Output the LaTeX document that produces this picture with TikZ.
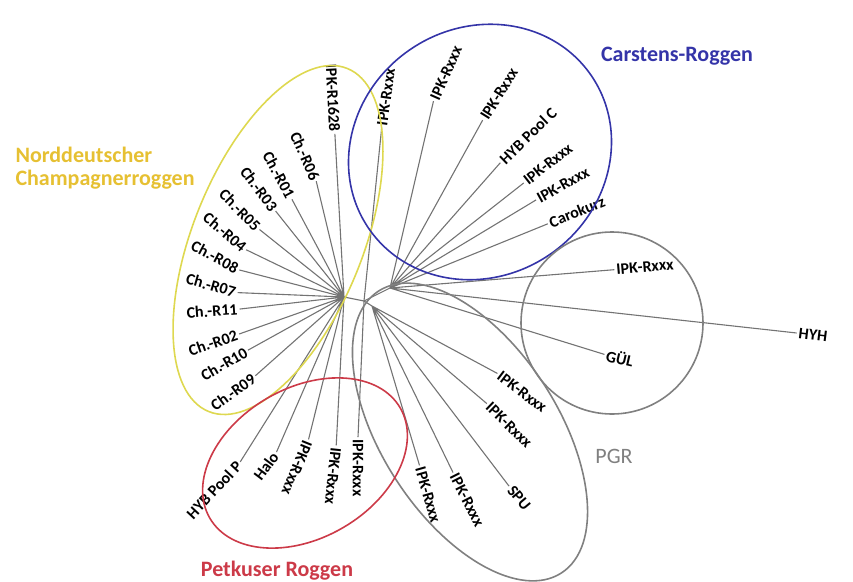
\documentclass[tikz,border=0pt]{standalone}
\usepackage{fontspec}
\setmainfont{Carlito}
\usepackage{xcolor}
\definecolor{champgold}{RGB}{230,192,50}
\definecolor{champline}{RGB}{222,216,80}
\definecolor{carstblue}{RGB}{52,52,168}
\definecolor{petkred}{RGB}{204,58,72}
\definecolor{pgrgray}{RGB}{128,128,128}
\definecolor{branchgray}{RGB}{115,115,115}

\begin{document}
\begin{tikzpicture}[
    x=1pt, y=-1pt,
    leaf/.style={font=\bfseries\fontsize{16}{16}\selectfont, inner sep=2pt},
    branch/.style={draw=branchgray, line width=1.1pt},
    group/.style={line width=1.6pt},
    title/.style={font=\bfseries\fontsize{22}{23}\selectfont, align=left}
]
\useasboundingbox (0,0) rectangle (853,581);

% Inner nodes of the tree
\coordinate (A) at (344,297);
\coordinate (B) at (364,301);
\coordinate (K) at (390,288);
\coordinate (D) at (372,306);

% Norddeutscher Champagnerroggen
\node[leaf, rotate=-87] (r1628) at (333,98) {IPK-R1628};
\node[leaf, rotate=-66] (r06) at (305,156) {Ch.-R06};
\node[leaf, rotate=-62] (r01) at (279,175) {Ch.-R01};
\node[leaf, rotate=-53] (r03) at (259,189) {Ch.-R03};
\node[leaf, rotate=-45] (r05) at (240,210) {Ch.-R05};
\node[leaf, rotate=-40] (r04) at (225,232) {Ch.-R04};
\node[leaf, rotate=-28] (r08) at (215,257) {Ch.-R08};
\node[leaf, rotate=-16] (r07) at (211,285) {Ch.-R07};
\node[leaf, rotate=4] (r11) at (212,311) {Ch.-R11};
\node[leaf, rotate=19] (r02) at (213,343) {Ch.-R02};
\node[leaf, rotate=30] (r10) at (224,364) {Ch.-R10};
\node[leaf, rotate=36] (r09) at (233,392) {Ch.-R09};

% Petkuser Roggen
\node[leaf, rotate=47] (poolp) at (214,490) {HYB Pool P};
\node[leaf, rotate=53] (halo) at (266,466) {Halo};
\node[leaf, rotate=-112] (pk1) at (297,468) {IPK-Rxxx};
\node[leaf, rotate=-96] (pk2) at (333,476) {IPK-Rxxx};
\node[leaf, rotate=-90] (pk3) at (358,468) {IPK-Rxxx};

% PGR
\node[leaf, rotate=-74] (pg1) at (428,495) {IPK-Rxxx};
\node[leaf, rotate=-63] (pg2) at (467,500) {IPK-Rxxx};
\node[leaf, rotate=-50] (spu) at (519,498) {SPU};
\node[leaf, rotate=-44] (pg3) at (509,425) {IPK-Rxxx};
\node[leaf, rotate=-37] (pg4) at (522,392) {IPK-Rxxx};

% Outliers
\node[leaf, rotate=5] (gr1) at (645,267) {IPK-Rxxx};
\node[leaf, rotate=-7] (hyh) at (813,335) {HYH};
\node[leaf, rotate=-13] (gul) at (620,358) {GÜL};

% Carstens-Roggen
\node[leaf, rotate=82] (cr1) at (386,97) {IPK-Rxxx};
\node[leaf, rotate=66] (cr2) at (446,73) {IPK-Rxxx};
\node[leaf, rotate=58] (cr3) at (499,94) {IPK-Rxxx};
\node[leaf, rotate=44] (poolc) at (528,136) {HYB Pool C};
\node[leaf, rotate=38] (cr4) at (548,164) {IPK-Rxxx};
\node[leaf, rotate=29] (cr5) at (563,185) {IPK-Rxxx};
\node[leaf, rotate=22] (caro) at (577,212) {Carokurz};

% Branches
\draw[branch] (A) -- (B) (B) -- (K) (B) -- (D);
\draw[branch] (A) -- (r1628.east) (A) -- (r06.east) (A) -- (r01.east) (A) -- (r03.east)
    (A) -- (r05.east) (A) -- (r04.east) (A) -- (r08.east) (A) -- (r07.east)
    (A) -- (r11.east) (A) -- (r02.east) (A) -- (r10.east) (A) -- (r09.east);
\draw[branch] (A) -- (poolp.east) (A) -- (halo.east) (A) -- (pk1.west) (A) -- (pk2.west)
    (B) -- (pk3.west);
\draw[branch] (D) -- (pg1.west) (D) -- (pg2.west) (D) -- (spu.west) (D) -- (pg3.west)
    (D) -- (pg4.west);
\draw[branch] (K) -- (gr1.west) (K) -- (hyh.west) (K) -- (gul.west);
\draw[branch] (B) -- (cr1.west) (K) -- (cr2.west) (K) -- (cr3.west) (K) -- (poolc.west)
    (K) -- (cr4.west) (K) -- (cr5.west) (K) -- (caro.west);

% Group outlines
\draw[group, champline, rotate around={68:(278,240)}] (278,240) ellipse [x radius=185pt, y radius=85pt];
\draw[group, carstblue, rotate around={35:(480,152)}] (480,152) ellipse [x radius=135pt, y radius=124pt];
\draw[group, pgrgray] (612,323) circle [radius=91pt];
\draw[group, pgrgray, rotate around={-57:(470,432)}] (470,432) ellipse [x radius=168pt, y radius=88pt];
\draw[group, petkred, rotate around={30:(305,463)}] (305,463) ellipse [x radius=110pt, y radius=75pt];

% Group names
\node[title, text=champgold, anchor=west] (nctitle) at (12,168) {Norddeutscher\\Champagnerroggen};
\node[title, text=carstblue] (crtitle) at (677,56) {Carstens-Roggen};
\node[title, text=petkred] (pttitle) at (277,571) {Petkuser Roggen};
\node[font=\fontsize{22}{23}\selectfont, text=pgrgray] (pgrtitle) at (614,456) {PGR};

\end{tikzpicture}
\end{document}
